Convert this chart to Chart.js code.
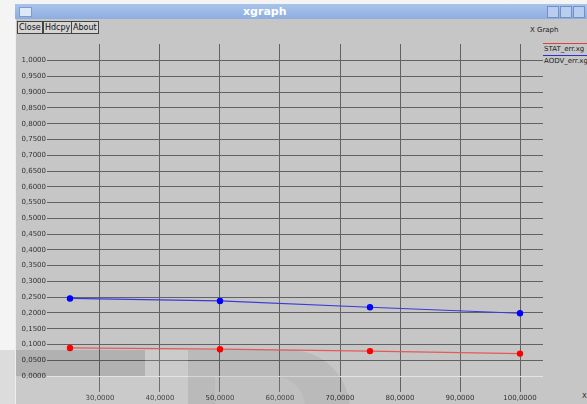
<!DOCTYPE html>
<html><head><meta charset="utf-8">
<script src="https://cdn.jsdelivr.net/npm/chart.js@4/dist/chart.umd.min.js"></script>
<style>
html,body{margin:0;padding:0;background:#f4f4f4;width:587px;height:404px;overflow:hidden;font-family:"DejaVu Sans",sans-serif;}
#win{position:absolute;left:15px;top:4px;width:572px;height:400px;background:#c6c6c6;border-left:1px solid #eee;}
#titlebar{position:absolute;left:15px;top:4px;width:572px;height:15px;background:linear-gradient(#a9c3ea,#8eaee0);}
#titlebar .t{position:absolute;left:228px;top:0;font:bold 11px "DejaVu Sans";color:#fff;line-height:15px;}
#titlebar .ic{position:absolute;left:4px;top:3px;width:11px;height:8px;background:#dfe8f6;border:1px solid #7d9ccf;}
.wb{position:absolute;top:2px;width:10px;height:10px;border:1px solid #7390c6;background:#b9cdee;}
.btn{position:absolute;top:21px;height:11px;border:1px solid #444;background:#d4d4d4;font:8px "DejaVu Sans";line-height:11px;padding:0 1px;color:#111;}
.txt{position:absolute;font:7px "DejaVu Sans";color:#222;white-space:nowrap;}
#c{position:absolute;left:0;top:0;}
.wm{position:absolute;pointer-events:none;}
</style></head><body>
<div id="win"></div>
<div id="titlebar"><div class="ic"></div><div class="t">xgraph</div>
<div class="wb" style="left:532px"></div><div class="wb" style="left:545px"></div><div class="wb" style="left:558px"></div></div>
<div class="btn" style="left:17px">Close</div>
<div class="btn" style="left:43px">Hdcpy</div>
<div class="btn" style="left:71px">About</div>
<div class="txt" style="left:530px;top:26px">X Graph</div>
<div style="position:absolute;left:543px;top:43px;width:44px;height:1px;background:#e04040"></div>
<div class="txt" style="left:544px;top:45px">STAT_err.xg</div>
<div style="position:absolute;left:543px;top:55px;width:44px;height:1px;background:#3030d0"></div>
<div class="txt" style="left:544px;top:57px">AODV_err.xg</div>
<div class="txt" style="left:582px;top:392px">X</div>
<canvas id="c" width="587" height="404"></canvas>
<div class="wm" style="left:0;top:350px;width:15px;height:54px;background:#dcdcdc"></div>
<div class="wm" style="left:16px;top:350px;width:129px;height:26px;background:rgba(0,0,0,0.1)"></div>
<div class="wm" style="left:16px;top:377px;width:172px;height:27px;background:rgba(255,255,255,0.08)"></div>
<div class="wm" style="left:145px;top:350px;width:43px;height:26px;background:rgba(255,255,255,0.1)"></div>
<div class="wm" style="left:188px;top:350px;width:162px;height:60px;border-top-right-radius:70px;background:rgba(0,0,0,0.06)"></div>
<div class="wm" style="left:215px;top:377px;width:90px;height:30px;border-top-right-radius:35px;background:rgba(255,255,255,0.1)"></div>
<script>
const xValues = [25, 50, 75, 100];
const statErr = [0.089, 0.085, 0.079, 0.071];
const aodvErr = [0.246, 0.238, 0.218, 0.199];
const xTicks = [30, 40, 50, 60, 70, 80, 90, 100];
const yTicks = [0, 0.05, 0.1, 0.15, 0.2, 0.25, 0.3, 0.35, 0.4, 0.45, 0.5, 0.55, 0.6, 0.65, 0.7, 0.75, 0.8, 0.85, 0.9, 0.95, 1.0];
const xMin = 21.167, xMax = 103.833;
const yMin = -0.0507, yMax = 1.0529;

function fmt(v, d){ return v.toFixed(d).replace('.', ','); }

new Chart(document.getElementById('c'), {
  type: 'line',
  data: {
    datasets: [
      { label: 'STAT_err.xg', data: xValues.map((x,i)=>({x, y: statErr[i]})),
        borderColor: '#e45a5a', backgroundColor: '#ff0000', pointBackgroundColor: '#ff0000', pointBorderColor:'#ff0000',
        borderWidth: 1.2, pointRadius: 2.6, tension: 0 },
      { label: 'AODV_err.xg', data: xValues.map((x,i)=>({x, y: aodvErr[i]})),
        borderColor: '#3a3ad8', backgroundColor: '#0000ff', pointBackgroundColor: '#0000ff', pointBorderColor:'#0000ff',
        borderWidth: 1.2, pointRadius: 2.6, tension: 0 }
    ]
  },
  options: {
    responsive: false, animation: false, devicePixelRatio: 1,
    layout: { padding: { top: 44, right: 44, left: 0, bottom: 0 } },
    plugins: { legend: { display: false }, tooltip: { enabled: false } },
    scales: {
      x: { type: 'linear', min: xMin, max: xMax,
        afterBuildTicks: s => { s.ticks = xTicks.map(v => ({value: v})); },
        afterFit: s => { s.height = 12; },
        grid: { color: '#626262', lineWidth: 1, drawTicks: false },
        border: { display: false },
        ticks: { autoSkip: false, maxRotation: 0, padding: 2, color: '#333',
          font: { family: 'DejaVu Sans', size: 7 }, callback: v => fmt(v, 4) } },
      y: { type: 'linear', min: yMin, max: yMax,
        afterBuildTicks: s => { s.ticks = yTicks.map(v => ({value: v})); },
        afterFit: s => { s.width = 47; },
        grid: { color: ctx => (ctx.tick && Math.abs(ctx.tick.value) < 1e-9) ? '#e4e4e4' : '#626262', lineWidth: 1, drawTicks: false },
        border: { display: false },
        ticks: { autoSkip: false, padding: 1, color: '#333',
          font: { family: 'DejaVu Sans', size: 7 }, callback: v => fmt(v, 4) } }
    }
  }
});
</script>
</body></html>
